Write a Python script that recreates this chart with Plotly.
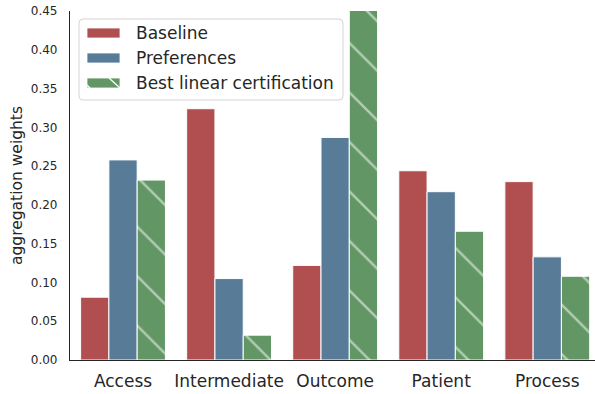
import plotly.graph_objects as go

categories = ["Access", "Intermediate", "Outcome", "Patient", "Process"]
baseline = [0.081, 0.324, 0.122, 0.244, 0.230]
preferences = [0.258, 0.105, 0.287, 0.217, 0.133]
best_linear = [0.232, 0.032, 0.480, 0.166, 0.108]
y_ticks = [0.00, 0.05, 0.10, 0.15, 0.20, 0.25, 0.30, 0.35, 0.40, 0.45]
series_names = ["Baseline", "Preferences", "Best linear certification"]

RED = "#b14e50"
BLUE = "#587b98"
GREEN = "#629765"
TEXT = "#262626"
colors = [RED, BLUE, GREEN]

W, H = 595, 394
L, R, T, B = 70, 0, 11, 34
PW, PH = W - L - R, H - T - B


def px(xp):
    return (xp - L) / PW


def py(yp):
    return (H - B - yp) / PH


fig = go.Figure()
for name, vals, col in zip(series_names, [baseline, preferences, best_linear], colors):
    marker = dict(color=col, line=dict(color="white", width=1))
    if name == "Best linear certification":
        marker["pattern"] = dict(shape="\\", fgcolor="white", bgcolor=col,
                                 size=35, solidity=0.07)
    fig.add_bar(x=categories, y=vals, name=name, marker=marker, showlegend=False)

# Legend box drawn in pixel-aligned paper coordinates
shapes = []
bx0, bx1, by0, by1, rad = 79, 343, 19, 100, 4
path = (f"M{px(bx0 + rad)},{py(by0)} L{px(bx1 - rad)},{py(by0)} "
        f"Q{px(bx1)},{py(by0)} {px(bx1)},{py(by0 + rad)} "
        f"L{px(bx1)},{py(by1 - rad)} Q{px(bx1)},{py(by1)} {px(bx1 - rad)},{py(by1)} "
        f"L{px(bx0 + rad)},{py(by1)} Q{px(bx0)},{py(by1)} {px(bx0)},{py(by1 - rad)} "
        f"L{px(bx0)},{py(by0 + rad)} Q{px(bx0)},{py(by0)} {px(bx0 + rad)},{py(by0)} Z")
shapes.append(dict(type="path", xref="paper", yref="paper", path=path,
                   fillcolor="rgba(255,255,255,0.85)", line=dict(color="#d4d4d4", width=1)))
annotations = []
for i, (name, col) in enumerate(zip(series_names, colors)):
    yc = 33 + 25 * i
    shapes.append(dict(type="rect", xref="paper", yref="paper",
                       x0=px(87), x1=px(120), y0=py(yc - 5), y1=py(yc + 5),
                       fillcolor=col, line=dict(color="white", width=0.8)))
    if name == "Best linear certification":
        shapes.append(dict(type="line", xref="paper", yref="paper",
                           x0=px(109), y0=py(yc - 5), x1=px(120), y1=py(yc + 5),
                           line=dict(color="white", width=1.3)))
        shapes.append(dict(type="line", xref="paper", yref="paper",
                           x0=px(87), y0=py(yc + 2), x1=px(90), y1=py(yc + 5),
                           line=dict(color="white", width=1.3)))
    annotations.append(dict(text=name, xref="paper", yref="paper",
                            x=px(134), y=py(yc), xanchor="left", yanchor="middle",
                            showarrow=False, font=dict(size=17, color=TEXT)))

fig.update_layout(
    width=W, height=H,
    margin=dict(l=L, r=R, t=T, b=B),
    paper_bgcolor="white", plot_bgcolor="white",
    font=dict(family="DejaVu Sans", color=TEXT),
    barmode="group", bargap=0.2, bargroupgap=0,
    shapes=shapes, annotations=annotations,
    xaxis=dict(range=[-0.5, 4.45], showline=True, linecolor=TEXT, linewidth=1.2,
               ticks="", tickfont=dict(size=17, color=TEXT), showgrid=False,
               ticklabelstandoff=5),
    yaxis=dict(range=[0, 0.45], tickvals=y_ticks, tickformat=".2f",
               showline=True, linecolor=TEXT, linewidth=1.2, ticks="",
               tickfont=dict(size=12, color=TEXT), showgrid=False, zeroline=False,
               ticklabelstandoff=9,
               title=dict(text="aggregation weights", font=dict(size=15.5, color=TEXT), standoff=4)),
)

fig.write_html("out.html")
